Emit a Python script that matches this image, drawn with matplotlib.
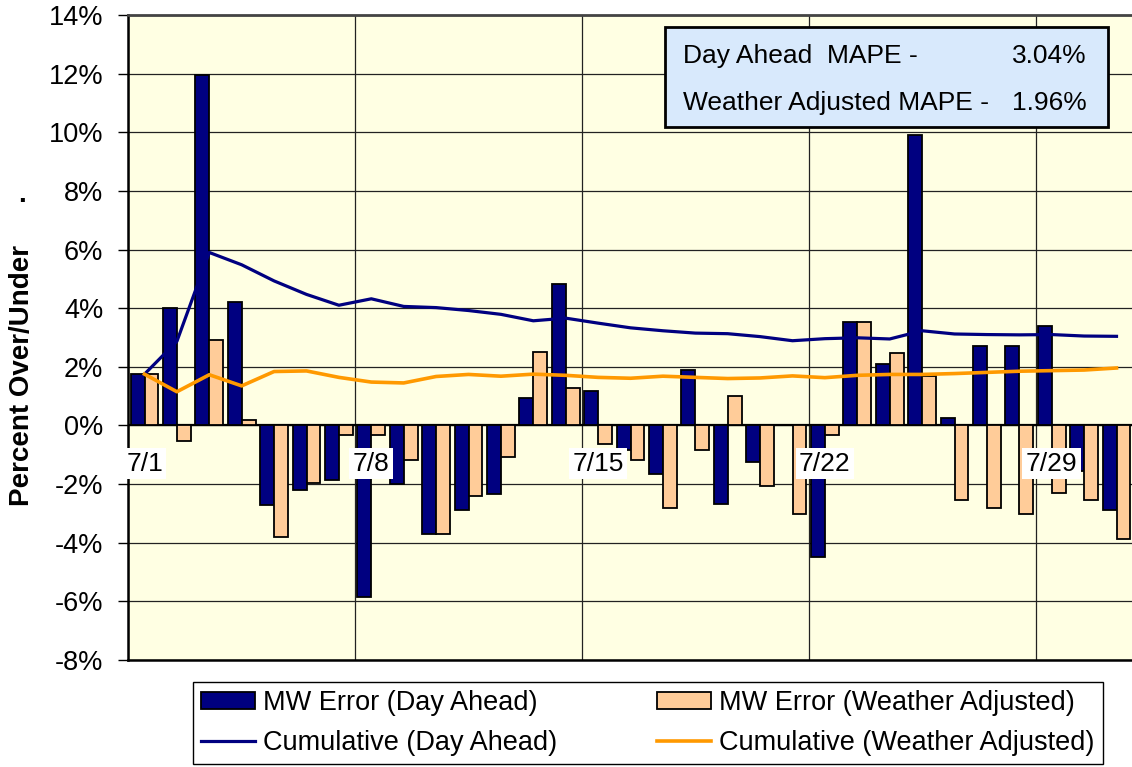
import matplotlib
matplotlib.use("Agg")
from matplotlib import pyplot as plt
from matplotlib.patches import Rectangle, Patch
from matplotlib.lines import Line2D
from matplotlib.ticker import FuncFormatter, MultipleLocator
import numpy as np

plt.rcParams['font.family'] = ['Liberation Sans', 'DejaVu Sans']

# July, one entry per day
days = np.arange(1, 32)
week_days = [1, 8, 15, 22, 29]
week_labels = ['7/1', '7/8', '7/15', '7/22', '7/29']

# daily MW error, percent over/under
da_err = [1.75, 3.99, 11.95, 4.22, -2.73, -2.19, -1.85, -5.85, -1.99, -3.69,
          -2.87, -2.33, 0.95, 4.84, 1.16, -0.83, -1.65, 1.89, -2.67, -1.25,
          0.0, -4.49, 3.54, 2.10, 9.92, 0.27, 2.71, 2.71, 3.40, -1.56, -2.87]
wa_err = [1.75, -0.54, 2.91, 0.19, -3.82, -1.96, -0.34, -0.34, -1.17, -3.69,
          -2.39, -1.08, 2.52, 1.29, -0.63, -1.17, -2.81, -0.83, 1.01, -2.05,
          -3.01, -0.34, 3.54, 2.46, 1.69, -2.53, -2.80, -3.01, -2.30, -2.53, -3.87]

# month-to-date MAPE
cum_da = [1.75, 2.87, 5.90, 5.48, 4.93, 4.47, 4.10, 4.32, 4.06, 4.02,
          3.92, 3.79, 3.57, 3.66, 3.49, 3.33, 3.23, 3.15, 3.13, 3.03,
          2.89, 2.96, 2.99, 2.95, 3.23, 3.12, 3.10, 3.09, 3.10, 3.05, 3.04]
cum_wa = [1.75, 1.15, 1.73, 1.35, 1.84, 1.86, 1.64, 1.48, 1.45, 1.67,
          1.74, 1.68, 1.75, 1.71, 1.64, 1.61, 1.68, 1.64, 1.60, 1.62,
          1.69, 1.63, 1.71, 1.74, 1.74, 1.77, 1.81, 1.85, 1.87, 1.89, 1.96]

NAVY = '#000080'
PEACH = '#FFCC99'
ORANGE = '#FF9900'

W, H = 1132, 767
fig = plt.figure(figsize=(W / 100, H / 100), dpi=100)


def fx(px):
    return px / W


def fy(py):
    return 1 - py / H


ax = fig.add_axes([fx(128.3), fy(660), (1132.7 - 128.3) / W, 645 / H])
ax.set_facecolor('#FFFFE3')

bw = 0.43
ax.bar(days - bw / 2, da_err, width=bw, color=NAVY, edgecolor='black', linewidth=1.3, zorder=3)
ax.bar(days + bw / 2, wa_err, width=bw, color=PEACH, edgecolor='black', linewidth=1.3, zorder=3)
ax.axhline(0, color='black', lw=1.6, zorder=2.5)
ax.plot(days, cum_da, color=NAVY, lw=2.3, zorder=4)
ax.plot(days, cum_wa, color=ORANGE, lw=2.6, zorder=4)

ax.set_xlim(0.5, 31.5)
ax.set_ylim(-8, 14)
ax.yaxis.set_major_locator(MultipleLocator(2))
ax.yaxis.set_major_formatter(FuncFormatter(lambda v, p: f'{int(round(v))}%'))
ax.set_xticks([d - 0.5 for d in week_days])
ax.tick_params(axis='x', length=0, labelbottom=False)
ax.tick_params(axis='y', length=7, width=1, labelsize=19.5, pad=11, direction='out')
ax.grid(True, color='#222222', lw=0.9, zorder=1)
ax.set_axisbelow(True)
for side in ['left', 'bottom']:
    ax.spines[side].set_linewidth(1.8)
ax.spines['top'].set_color('#444444')
ax.spines['top'].set_linewidth(2)

# week start labels sit just under the zero line
for d, lbl in zip(week_days, week_labels):
    ax.text(d, -1.3, lbl, ha='center', va='center', fontsize=19, zorder=5,
            bbox=dict(fc='white', ec='none', pad=2.5))

fig.text(fx(22), fy(376), 'Percent Over/Under', rotation=90, ha='center', va='center',
         fontsize=20, fontweight='bold')
fig.text(fx(22), fy(195), '.', ha='center', va='center', fontsize=20, fontweight='bold')

# MAPE summary box
fig.add_artist(Rectangle((fx(665), fy(127)), (1108 - 665) / W, 100 / H,
                         transform=fig.transFigure, fc='#D8E9FC', ec='black', lw=2, zorder=5))
fig.text(fx(683), fy(63), 'Day Ahead  MAPE -', va='baseline', fontsize=19, zorder=6)
fig.text(fx(683), fy(110), 'Weather Adjusted MAPE -', va='baseline', fontsize=19, zorder=6)
fig.text(fx(1087), fy(63), f'{cum_da[-1]:.2f}%', ha='right', va='baseline', fontsize=19, zorder=6)
fig.text(fx(1087), fy(110), f'{cum_wa[-1]:.2f}%', ha='right', va='baseline', fontsize=19, zorder=6)

handles = [Patch(fc=NAVY, ec='black', lw=1.3), Line2D([], [], color=NAVY, lw=2.3),
           Patch(fc=PEACH, ec='black', lw=1.3), Line2D([], [], color=ORANGE, lw=2.6)]
labels = ['MW Error (Day Ahead)', 'Cumulative (Day Ahead)',
          'MW Error (Weather Adjusted)', 'Cumulative (Weather Adjusted)']
leg = fig.legend(handles, labels, ncol=2, loc='upper left',
                 bbox_to_anchor=(fx(193), fy(682), (1103 - 193) / W, 0), mode='expand',
                 fontsize=19.5, frameon=True, fancybox=False, edgecolor='black', framealpha=1,
                 borderaxespad=0, borderpad=0.3, handlelength=2.0, handleheight=0.55,
                 handletextpad=0.3, labelspacing=0.5)
leg.get_frame().set_linewidth(1.0)

fig.savefig('out.png', dpi=100)
